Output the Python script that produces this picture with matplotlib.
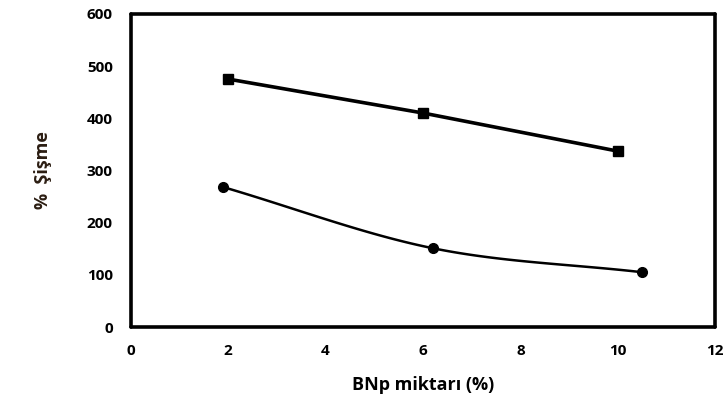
import numpy as np
import matplotlib
matplotlib.use("Agg")
import matplotlib.pyplot as plt

# values
bnp_sq = [2.0, 6.0, 10.0]
swell_sq = [475, 410, 337]
bnp_ci = [1.9, 6.2, 10.5]
swell_ci = [268, 151, 105]
xticks = [0, 2, 4, 6, 8, 10, 12]
yticks = [0, 100, 200, 300, 400, 500, 600]


def smooth(x, y, n=40):
    # catmull-rom curve through the points, like the spreadsheet "smoothed line"
    p = np.column_stack([x, y]).astype(float)
    p = np.vstack([p[0] - (p[1] - p[0]), p, p[-1] + (p[-1] - p[-2])])
    out = []
    for i in range(1, len(p) - 2):
        p0, p1, p2, p3 = p[i - 1], p[i], p[i + 1], p[i + 2]
        t = np.linspace(0, 1, n)[:, None]
        seg = 0.5 * ((2 * p1) + (-p0 + p2) * t + (2 * p0 - 5 * p1 + 4 * p2 - p3) * t ** 2
                     + (-p0 + 3 * p1 - 3 * p2 + p3) * t ** 3)
        out.append(seg)
    out = np.vstack(out)
    return out[:, 0], out[:, 1]


plt.rcParams['font.family'] = ['Open Sans', 'DejaVu Sans']
fig = plt.figure(figsize=(7.23, 4.01), dpi=100)
ax = fig.add_axes([0.181, 0.1845, 0.808, 0.781])

ax.plot(bnp_sq, swell_sq, color='black', lw=2.6, marker='s', ms=7, zorder=3)
sx, sy = smooth(bnp_ci, swell_ci)
ax.plot(sx, sy, color='black', lw=1.8, zorder=3)
ax.plot(bnp_ci, swell_ci, ls='none', color='black', marker='o', ms=7, zorder=4)

ax.set_xlim(0, 12)
ax.set_ylim(0, 600)
ax.set_xticks(xticks)
ax.set_yticks(yticks)
ax.tick_params(axis='x', length=0, pad=12, labelsize=11)
ax.tick_params(axis='y', length=0, pad=13, labelsize=11)
for lab in ax.get_xticklabels() + ax.get_yticklabels():
    lab.set_fontweight('bold')
for s in ax.spines.values():
    s.set_linewidth(2.6)
    s.set_capstyle('round')

ax.set_xlabel('BNp miktarı (%)', fontsize=13, fontweight='bold', labelpad=13)
ax.set_ylabel('%  Şişme', fontsize=13, fontweight='bold', color='#2b1d12', labelpad=25)

fig.savefig('out.png', dpi=100)
